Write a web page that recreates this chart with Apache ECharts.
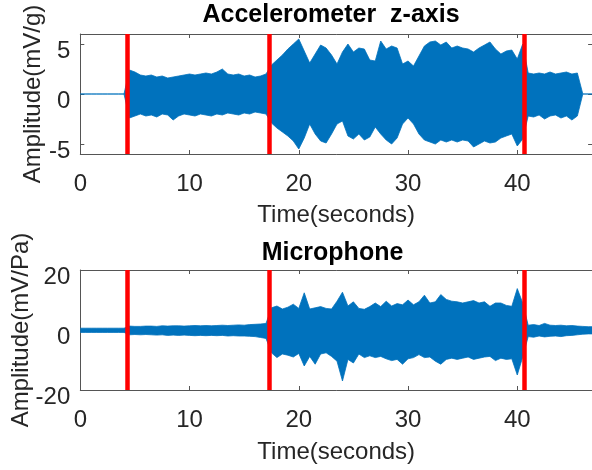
<!DOCTYPE html>
<html><head><meta charset="utf-8">
<script src="https://cdn.jsdelivr.net/npm/echarts@6/dist/echarts.min.js"></script>
<style>html,body{margin:0;padding:0;background:#fff}#c{width:592px;height:470px}</style>
</head><body><div id="c"></div>
<script>
// sample spacing of the envelope readings (seconds)
const timeStep = 0.5;
// Accelerometer z-axis envelope (mV/g), read every 0.5 s from 0 to 47 s
const accelUpper = [0,0,0,0,0,0,0,0,0,2.4,2.2,1.9,1.8,1.9,1.7,1.8,1.6,1.7,1.8,1.9,2.0,1.9,2.0,2.1,2.0,2.2,2.5,2.0,1.9,2.0,1.8,1.9,1.7,1.8,2.0,
  2.9,3.4,3.9,4.5,5.0,5.5,4.3,3.1,4.0,4.9,4.6,3.9,3.0,4.2,5.0,4.2,4.6,4.5,3.4,3.3,5.3,4.5,4.8,4.6,3.0,3.3,2.8,3.8,4.8,5.2,5.3,4.9,5.2,4.6,4.8,4.6,4.5,4.2,4.6,4.9,5.2,4.5,4.0,4.3,4.4,3.5,5.0,
  2.1,2.0,2.1,2.0,2.2,2.0,2.1,2.2,2.0,2.1,0,0,0];
const accelLower = [0,0,0,0,0,0,0,0,0,-2.4,-2.2,-2.0,-2.2,-2.1,-2.3,-2.0,-2.1,-2.6,-2.2,-2.0,-2.1,-2.2,-2.0,-2.1,-2.2,-2.0,-2.1,-1.9,-2.0,-2.1,-1.9,-2.0,-1.8,-1.9,-2.0,
  -2.9,-3.4,-3.8,-4.2,-4.7,-5.5,-4.4,-3.0,-4.0,-4.7,-4.9,-4.0,-3.0,-2.7,-4.2,-4.5,-4.0,-4.6,-4.3,-3.3,-4.0,-4.6,-5.0,-4.4,-3.0,-2.4,-3.0,-4.0,-4.6,-4.8,-5.0,-4.6,-4.8,-4.6,-4.8,-4.6,-4.7,-5.3,-5.0,-4.7,-4.9,-4.8,-4.4,-4.2,-4.0,-5.2,-4.5,
  -2.2,-2.3,-2.1,-2.5,-2.2,-2.1,-2.4,-2.2,-2.6,-2.2,0,0,0];
// Microphone envelope (mV/Pa), read every 0.5 s from 0 to 47 s
const micUpper = [0.6,0.6,0.6,0.6,0.6,0.6,0.6,0.6,0.6,1.3,1.2,1.2,1.3,1.3,1.2,1.4,1.3,1.4,1.4,1.3,1.4,1.5,1.4,1.5,1.4,1.5,1.6,1.5,1.6,1.7,1.6,1.8,1.9,2.0,2.2,
  7.4,8.0,7.0,7.6,8.6,7.2,12.4,7.0,7.4,7.8,7.2,7.0,9.6,12.6,8.0,9.4,7.2,6.9,7.8,9.0,7.8,9.6,8.0,8.8,8.4,10.0,8.4,9.4,11.6,9.0,9.4,11.8,10.2,9.6,9.4,9.0,9.4,9.8,9.0,9.4,7.9,9.0,9.0,8.2,7.9,13.8,9.0,
  1.6,1.8,1.5,2.2,1.6,1.5,1.6,1.4,1.5,1.3,1.2,1.1,1.1];
const micLower = [-0.8,-0.8,-0.8,-0.8,-0.8,-0.8,-0.8,-0.8,-0.8,-1.6,-1.5,-1.6,-1.5,-1.6,-1.7,-1.6,-1.8,-1.7,-1.8,-1.7,-1.8,-1.9,-1.8,-1.9,-1.8,-1.9,-1.8,-2.0,-1.9,-2.0,-2.0,-2.1,-2.2,-2.5,-2.8,
  -7.6,-9.2,-8.0,-8.4,-9.0,-7.8,-12.0,-8.8,-11.4,-8.0,-7.6,-8.8,-10.4,-17.0,-9.8,-11.0,-8.0,-9.2,-8.6,-9.2,-8.8,-9.6,-10.2,-9.8,-11.4,-9.6,-9.2,-8.2,-9.2,-9.0,-10.4,-11.4,-9.8,-9.4,-9.8,-9.4,-9.0,-9.8,-9.4,-9.0,-8.8,-10.2,-9.4,-9.8,-9.6,-15.0,-9.0,
  -2.2,-2.4,-2.0,-2.3,-2.1,-2.0,-2.2,-1.9,-1.8,-1.6,-1.4,-1.3,-1.3];
// event markers (seconds)
const markerTimes = [4.27, 17.3, 40.6];
// tick values
const timeTicks = [0, 10, 20, 30, 40];
const accelTicks = [-5, 0, 5];
const micTicks = [-20, 0, 20];
const timeMax = 46.85;

const FONT = 'Liberation Sans';
const BLUE = '#0072BD';
const AX = '#555555';

function pairs(arr){ return arr.map((v,i)=>[i*timeStep, v]); }

function xAx(grid, pos, showLabels, gap){
  return {
    type:'value', gridIndex:grid, position:pos, min:0, max:timeMax,
    name: showLabels ? 'Time(seconds)' : '', nameLocation:'middle', nameGap:gap,
    nameTextStyle:{fontFamily:FONT, fontSize:24, color:'#262626'},
    axisLine:{show:true, onZero:false, lineStyle:{color:AX, width:1}},
    axisTick:{show:true, inside:true, length:4, customValues:timeTicks, lineStyle:{color:AX}},
    axisLabel:{show:showLabels, customValues:timeTicks, fontFamily:FONT, fontSize:24, color:'#262626', margin:18},
    splitLine:{show:false}
  };
}
function yAx(grid, pos, showLabels, mn, mx, ticks, name, gap){
  return {
    type:'value', gridIndex:grid, position:pos, min:mn, max:mx,
    name: showLabels ? name : '', nameLocation:'middle', nameGap:gap, nameMoveOverlap:false,
    nameTextStyle:{fontFamily:FONT, fontSize:24, color:'#262626'},
    axisLine:{show:true, onZero:false, lineStyle:{color:AX, width:1}},
    axisTick:{show:true, inside:true, length:4, customValues:ticks, lineStyle:{color:AX}},
    axisLabel:{show:showLabels, customValues:ticks, fontFamily:FONT, fontSize:24, color:'#262626', margin:10,
               verticalAlign:'top', lineHeight:14},
    splitLine:{show:false}
  };
}
function area(xi, yi, arr, withMarks){
  const s = {
    type:'line', xAxisIndex:xi, yAxisIndex:yi, data:pairs(arr), showSymbol:false, symbol:'none',
    lineStyle:{color:BLUE, width:0.8}, itemStyle:{color:BLUE},
    areaStyle:{color:BLUE, opacity:1, origin:0}, animation:false, silent:true
  };
  if (withMarks) {
    s.markLine = {
      silent:true, symbol:['none','none'], label:{show:false}, animation:false,
      lineStyle:{color:'#FF0000', width:4.5, type:'solid'},
      data: markerTimes.map(t=>({xAxis:t}))
    };
  }
  return s;
}

const chart = echarts.init(document.getElementById('c'), null, {renderer:'canvas'});
chart.setOption({
  animation:false,
  backgroundColor:'#ffffff',
  title:[
    {text:'Accelerometer  z-axis', left:331, top:3, textAlign:'center', padding:0,
     textStyle:{fontFamily:FONT, fontSize:25, fontWeight:'bold', color:'#000'}},
    {text:'Microphone', left:332.5, top:241, textAlign:'center', padding:0,
     textStyle:{fontFamily:FONT, fontSize:25, fontWeight:'bold', color:'#000'}}
  ],
  grid:[
    {left:80.3, top:34, width:511.8, height:120, containLabel:false, outerBoundsMode:'none'},
    {left:80.3, top:270, width:511.8, height:120, containLabel:false, outerBoundsMode:'none'}
  ],
  xAxis:[ xAx(0,'bottom',true,49), xAx(0,'top',false,0), xAx(1,'bottom',true,50), xAx(1,'top',false,0) ],
  yAxis:[
    yAx(0,'left',true,-6,6,accelTicks,'Amplitude(mV/g)',35), yAx(0,'right',false,-6,6,accelTicks,'',0),
    yAx(1,'left',true,-20,20,micTicks,'Amplitude(mV/Pa)',47), yAx(1,'right',false,-20,20,micTicks,'',0)
  ],
  series:[
    area(0,0,accelUpper,false),
    area(0,0,accelLower,true),
    area(2,2,micUpper,false),
    area(2,2,micLower,true)
  ]
});
</script></body></html>
